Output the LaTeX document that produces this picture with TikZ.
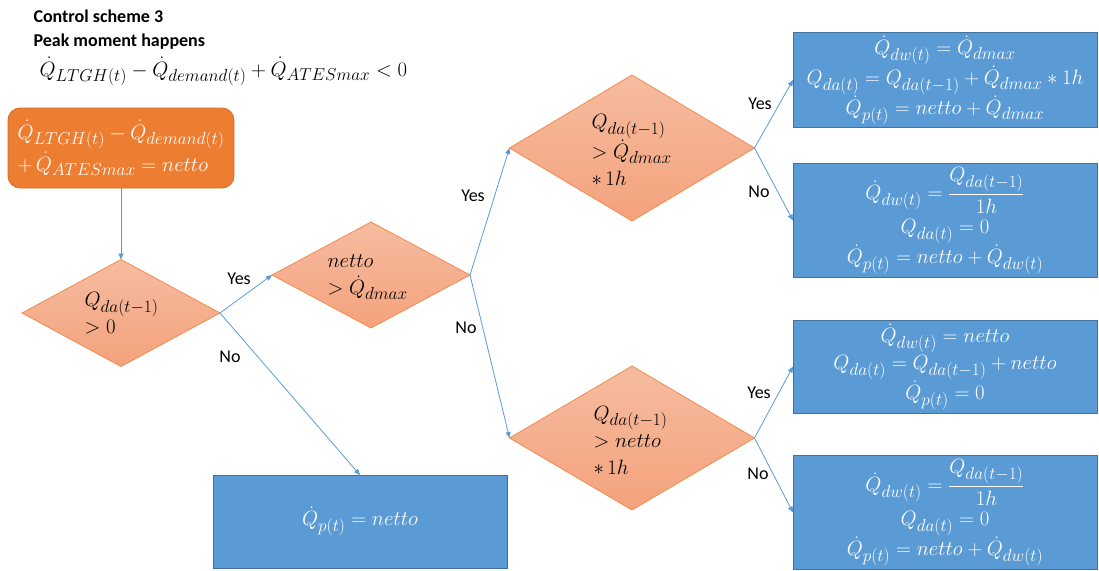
\documentclass[tikz,border=0pt]{standalone}
\usepackage{amsmath}
\usepackage{fontspec}
\setsansfont{Carlito}
\usetikzlibrary{shapes.geometric,arrows.meta}
\DeclareMathSizes{21.5}{21.5}{16.5}{12}
\definecolor{flowblue}{RGB}{91,155,213}
\definecolor{boxedge}{RGB}{65,113,156}
\definecolor{startorange}{RGB}{237,125,49}
\definecolor{startedge}{RGB}{215,110,40}
\definecolor{dtop}{RGB}{246,188,160}
\definecolor{dbot}{RGB}{244,162,124}
\definecolor{dedge}{RGB}{240,140,80}
\tikzset{
  mathtext/.style={font=\fontsize{21.5}{27}\selectfont},
  decision/.style={diamond, shade, top color=dtop, bottom color=dbot, draw=dedge,
    line width=0.8pt, inner sep=0pt, outer sep=0pt},
  decisiontext/.style={mathtext, align=left, anchor=west, text=black},
  result/.style={rectangle, fill=flowblue, draw=boxedge, line width=0.8pt,
    mathtext, text=white, align=center, outer sep=0pt},
  flow/.style={draw=flowblue, line width=0.8pt, -{Triangle[length=6pt,width=5pt]}},
  answer/.style={font=\sffamily\fontsize{18}{20}\selectfont, text=black},
  heading/.style={font=\sffamily\bfseries\fontsize{18}{20}\selectfont, anchor=base west},
}
\begin{document}
\begin{tikzpicture}[x=1pt,y=-1pt]
\useasboundingbox (0,0) rectangle (1099,570);

% headings and the peak condition
\node[heading] (title) at (30,22) {Control scheme 3};
\node[heading] (subtitle) at (30,46) {Peak moment happens};
\node[mathtext, anchor=base west] (cond) at (36,76)
  {$\dot{Q}_{LTGH(t)}-\dot{Q}_{demand(t)}+\dot{Q}_{ATESmax}<0$};

% start block
\node[rectangle, rounded corners=12pt, fill=startorange, draw=startedge, line width=0.8pt,
  minimum width=226pt, minimum height=80pt, mathtext, text=white, align=left,
  inner sep=2pt] (start) at (121,148)
  {$\dot{Q}_{LTGH(t)}-\dot{Q}_{demand(t)}$\\[2pt]$+\,\dot{Q}_{ATESmax}=netto$};

% decisions
\node[decision, minimum width=198pt, minimum height=107pt] (d1) at (121,313) {};
\node[decisiontext] (d1t) at (81,313) {$Q_{da(t-1)}$\\$>0$};

\node[decision, minimum width=198pt, minimum height=106pt] (d2) at (371,275) {};
\node[decisiontext] (d2t) at (324,277) {$netto$\\$>\dot{Q}_{dmax}$};

\node[decision, minimum width=245pt, minimum height=146pt] (d3) at (632,148) {};
\node[decisiontext] (d3t) at (588,150) {$Q_{da(t-1)}$\\$>\dot{Q}_{dmax}$\\$*\,1h$};

\node[decision, minimum width=245pt, minimum height=144pt] (d4) at (632,438) {};
\node[decisiontext] (d4t) at (590,440) {$Q_{da(t-1)}$\\$>netto$\\$*\,1h$};

% outcomes
\node[result, minimum width=294pt, minimum height=93pt] (pnet) at (360,521.5)
  {$\dot{Q}_{p(t)}=netto$};
\node[result, minimum width=304pt, minimum height=94pt] (ra) at (945,80)
  {$\dot{Q}_{dw(t)}=\dot{Q}_{dmax}$\\
   $Q_{da(t)}=Q_{da(t-1)}+\dot{Q}_{dmax}*1h$\\
   $\dot{Q}_{p(t)}=netto+\dot{Q}_{dmax}$};
\node[result, minimum width=304pt, minimum height=113pt] (rb) at (945,220.5)
  {$\dot{Q}_{dw(t)}=\dfrac{Q_{da(t-1)}}{1h}$\\[5pt]
   $Q_{da(t)}=0$\\
   $\dot{Q}_{p(t)}=netto+\dot{Q}_{dw(t)}$};
\node[result, minimum width=304pt, minimum height=93pt] (rc) at (945,366.5)
  {$\dot{Q}_{dw(t)}=netto$\\
   $Q_{da(t)}=Q_{da(t-1)}+netto$\\
   $\dot{Q}_{p(t)}=0$};
\node[result, minimum width=304pt, minimum height=111pt] (rd) at (945,512.5)
  {$\dot{Q}_{dw(t)}=\dfrac{Q_{da(t-1)}}{1h}$\\[5pt]
   $Q_{da(t)}=0$\\
   $\dot{Q}_{p(t)}=netto+\dot{Q}_{dw(t)}$};

% connectors
\draw[flow] (start.south) -- (d1.north);
\draw[flow] (d1.east) -- (d2.west);
\draw[flow] (d1.east) -- (pnet.north);
\draw[flow] (d2.east) -- (d3.west);
\draw[flow] (d2.east) -- (d4.west);
\draw[flow] (d3.east) -- (ra.west);
\draw[flow] (d3.east) -- (rb.west);
\draw[flow] (d4.east) -- (rc.west);
\draw[flow] (d4.east) -- (rd.west);

% branch labels
\node[answer] (y1) at (239,279) {Yes};
\node[answer] (n1) at (230,357) {No};
\node[answer] (y2) at (473,196) {Yes};
\node[answer] (n2) at (466,328) {No};
\node[answer] (y3) at (760,104) {Yes};
\node[answer] (n3) at (759,192) {No};
\node[answer] (y4) at (759,393) {Yes};
\node[answer] (n4) at (758,474) {No};
\end{tikzpicture}
\end{document}
